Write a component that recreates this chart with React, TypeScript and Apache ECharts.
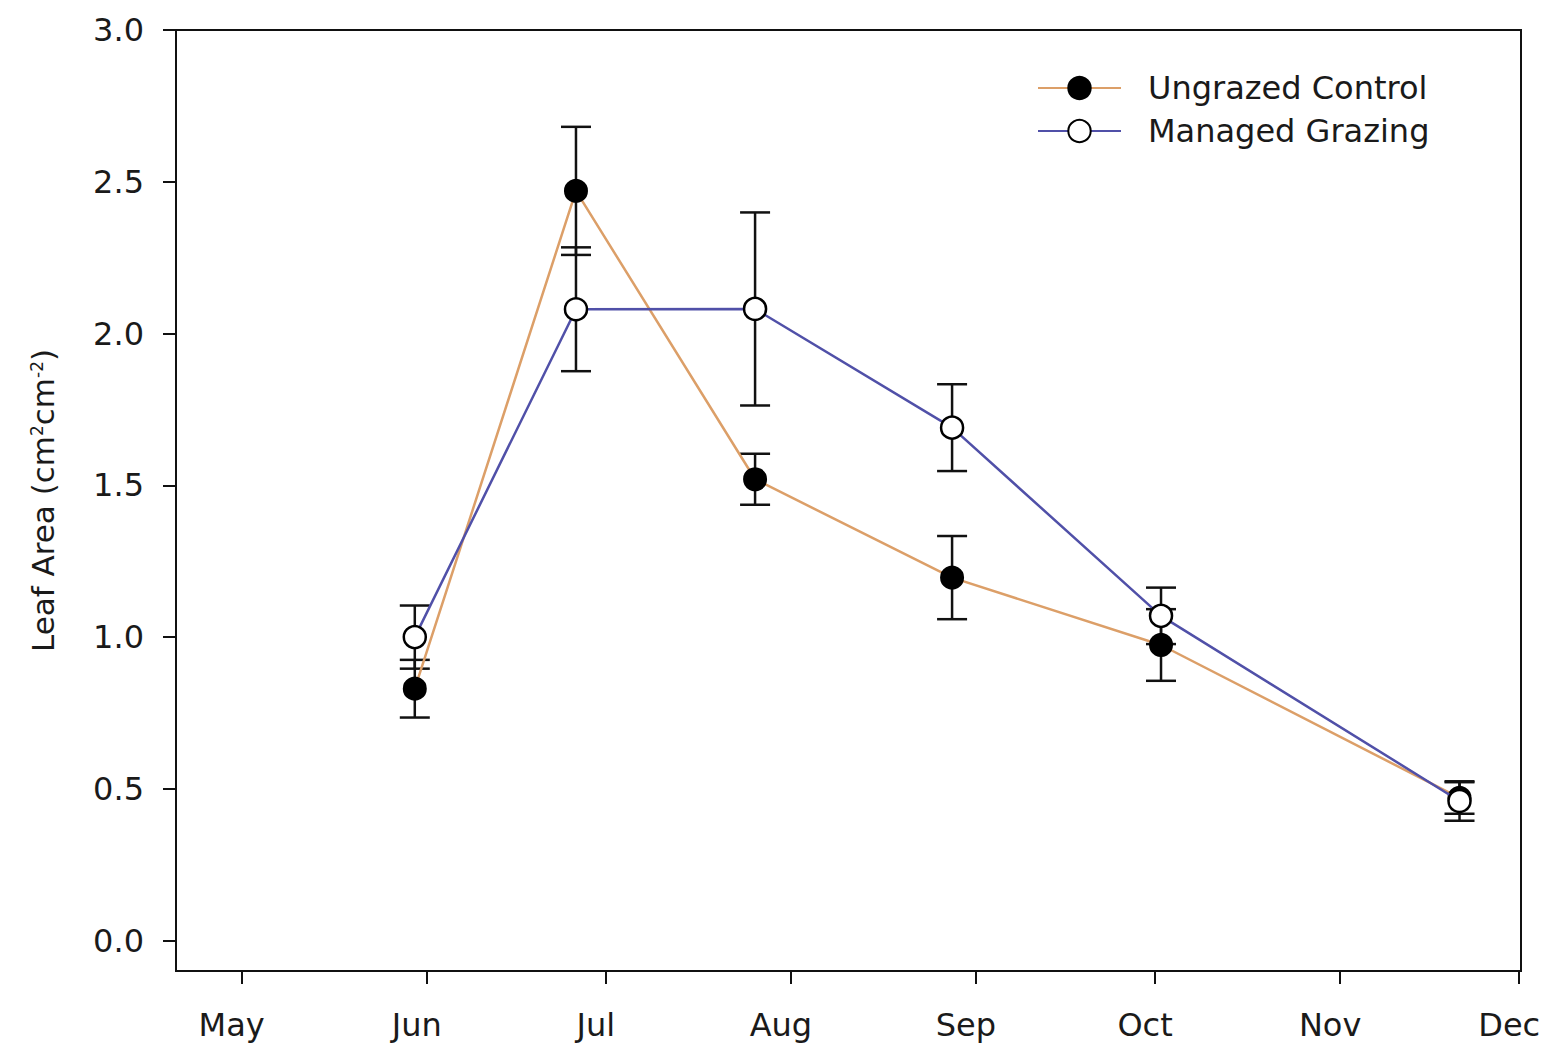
import React, { useEffect, useRef } from "react";
import * as echarts from "echarts";

// Sampling dates as day-of-year
const sampleDays = [150, 177, 207, 240, 275, 325];
const ungrazedMean = [0.83, 2.47, 1.52, 1.196, 0.974, 0.47];
const ungrazedSE = [0.095, 0.211, 0.084, 0.137, 0.118, 0.052];
const managedMean = [1.0, 2.08, 2.081, 1.69, 1.07, 0.46];
const managedSE = [0.104, 0.204, 0.318, 0.143, 0.093, 0.065];

const monthTickDays = [121, 152, 182, 213, 244, 274, 305, 335];
const monthLabels = ["May", "Jun", "Jul", "Aug", "Sep", "Oct", "Nov", "Dec"];
const yTickValues = [0, 0.5, 1.0, 1.5, 2.0, 2.5, 3.0];

const seriesNames = ["Ungrazed Control", "Managed Grazing"];

const FONT = "DejaVu Sans";
const TEXT_COLOR = "#1a1a1a";
const ORANGE = "#dc9f68";
const BLUE = "#5050a8";

function errorData(means: number[], ses: number[]) {
  return sampleDays.map((d, i) => [d, means[i] - ses[i], means[i] + ses[i]]);
}

function renderErrorBar(params: any, api: any) {
  const x = api.value(0);
  const lo = api.value(1);
  const hi = api.value(2);
  const pHi = api.coord([x, hi]);
  const pLo = api.coord([x, lo]);
  const hw = 15;
  const style = { stroke: "#111", lineWidth: 2.5 };
  return {
    type: "group",
    children: [
      { type: "line", shape: { x1: pHi[0], y1: pHi[1], x2: pLo[0], y2: pLo[1] }, style },
      { type: "line", shape: { x1: pHi[0] - hw, y1: pHi[1], x2: pHi[0] + hw, y2: pHi[1] }, style },
      { type: "line", shape: { x1: pLo[0] - hw, y1: pLo[1], x2: pLo[0] + hw, y2: pLo[1] }, style },
    ],
  };
}

export default function App() {
  const ref = useRef<HTMLDivElement>(null);

  useEffect(() => {
    if (!ref.current) return;
    const chart = echarts.init(ref.current, undefined, { renderer: "svg" });
    const monthMap: Record<number, string> = {};
    monthTickDays.forEach((d, i) => (monthMap[d] = monthLabels[i]));

    chart.setOption({
      animation: false,
      backgroundColor: "#fff",
      grid: {
        left: 176,
        right: 26,
        top: 30,
        bottom: 78,
        outerBoundsMode: "none",
        containLabel: false,
        show: true,
        borderColor: "#111",
        borderWidth: 2,
        backgroundColor: "transparent",
      },
      legend: {
        orient: "vertical",
        left: 1037,
        top: 72,
        padding: 0,
        itemWidth: 83,
        itemHeight: 28,
        itemGap: 11,
        data: seriesNames,
        textStyle: {
          fontFamily: FONT,
          fontSize: 32,
          color: TEXT_COLOR,
          lineHeight: 28,
          padding: [0, 0, 0, 22],
        },
      },
      xAxis: {
        type: "value",
        min: 110,
        max: 335.3,
        splitLine: { show: false },
        axisLine: { show: true, onZero: false, lineStyle: { color: "#111", width: 2 } },
        axisTick: {
          show: true,
          inside: false,
          length: 13,
          customValues: monthTickDays,
          lineStyle: { color: "#111", width: 2 },
        },
        axisLabel: {
          customValues: monthTickDays,
          formatter: (v: number) => monthMap[Math.round(v)] ?? "",
          fontFamily: FONT,
          fontSize: 32,
          lineHeight: 32,
          color: TEXT_COLOR,
          margin: 38,
          padding: [0, 20, 0, 0],
        },
      },
      yAxis: {
        type: "value",
        min: -0.1,
        max: 3.0,
        splitLine: { show: false },
        axisLine: { show: true, onZero: false, lineStyle: { color: "#111", width: 2 } },
        axisTick: {
          show: true,
          inside: false,
          length: 13,
          customValues: yTickValues,
          lineStyle: { color: "#111", width: 2 },
        },
        axisLabel: {
          customValues: yTickValues,
          formatter: (v: number) => v.toFixed(1),
          fontFamily: FONT,
          fontSize: 32,
          color: TEXT_COLOR,
          margin: 32,
        },
        name: "Leaf Area (cm{sup|2}cm{sup|-2})",
        nameLocation: "middle",
        nameGap: 118,
        nameTextStyle: {
          fontFamily: FONT,
          fontSize: 31,
          lineHeight: 30,
          color: TEXT_COLOR,
          rich: {
            sup: {
              fontFamily: FONT,
              fontSize: 17,
              lineHeight: 26,
              verticalAlign: "top",
              color: TEXT_COLOR,
            },
          },
        },
      },
      series: [
        {
          type: "custom",
          name: "errUngrazed",
          z: 1,
          renderItem: renderErrorBar,
          encode: { x: 0, y: [1, 2] },
          data: errorData(ungrazedMean, ungrazedSE),
          silent: true,
        },
        {
          type: "custom",
          name: "errManaged",
          z: 1,
          renderItem: renderErrorBar,
          encode: { x: 0, y: [1, 2] },
          data: errorData(managedMean, managedSE),
          silent: true,
        },
        {
          type: "line",
          name: seriesNames[0],
          z: 3,
          symbol: "circle",
          symbolSize: 22,
          lineStyle: { color: ORANGE, width: 2.5 },
          itemStyle: { color: "#000", borderColor: "#000", borderWidth: 2 },
          data: sampleDays.map((d, i) => [d, ungrazedMean[i]]),
        },
        {
          type: "line",
          name: seriesNames[1],
          z: 4,
          symbol: "circle",
          symbolSize: 22,
          lineStyle: { color: BLUE, width: 2.5 },
          itemStyle: { color: "#fff", borderColor: "#000", borderWidth: 2.5 },
          data: sampleDays.map((d, i) => [d, managedMean[i]]),
        },
      ],
    });
    return () => chart.dispose();
  }, []);

  return (
    <div
      ref={ref}
      style={{ position: "fixed", left: 0, top: 0, width: 1547, height: 1049, background: "#fff" }}
    />
  );
}
